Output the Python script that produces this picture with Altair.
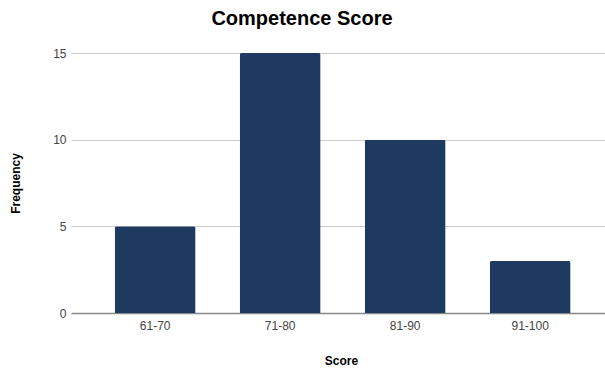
import altair as alt
import pandas as pd

categories = ["61-70", "71-80", "81-90", "91-100"]
frequency = [5, 15, 10, 3]
y_ticks = [0, 5, 10, 15]

df = pd.DataFrame({"Score": categories, "Frequency": frequency})

font = "Liberation Sans"

chart = alt.Chart(df).mark_bar(
    color="#1f3a60", cornerRadiusTopLeft=2, cornerRadiusTopRight=2
).encode(
    x=alt.X("Score:N", sort=categories,
            scale=alt.Scale(paddingInner=0.352, paddingOuter=0.312, align=0.56),
            axis=alt.Axis(title="Score", labelAngle=0, ticks=False, domainColor="#888888",
                          domainWidth=1.5, labelColor="#444444", labelFontSize=12,
                          labelFont=font, labelPadding=7, titleFont=font, titleFontSize=12,
                          titleFontWeight="bold", titleColor="#000000",
                          titleX=270, titleY=47, titleBaseline="middle")),
    y=alt.Y("Frequency:Q", scale=alt.Scale(domain=[0, 15], nice=False),
            axis=alt.Axis(title="Frequency", values=y_ticks, ticks=False, domain=False,
                          gridColor="#cccccc", labelColor="#444444", labelFontSize=12,
                          labelFont=font, labelPadding=5, titleFont=font, titleFontSize=12,
                          titleFontWeight="bold", titleColor="#000000",
                          titleX=-56, titleY=130, titleAngle=-90, titleBaseline="middle")),
).properties(
    width=534, height=260,
    title=alt.TitleParams("Competence Score", font=font, fontSize=20, fontWeight="bold",
                          color="#000000", anchor="middle", dx=-36, offset=18),
    autosize=alt.AutoSizeParams(type="none"),
    padding={"left": 71, "top": 53, "right": 0, "bottom": 56},
).configure_view(stroke=None)

chart.save("out.html", embed_options={"renderer": "svg", "actions": False})
